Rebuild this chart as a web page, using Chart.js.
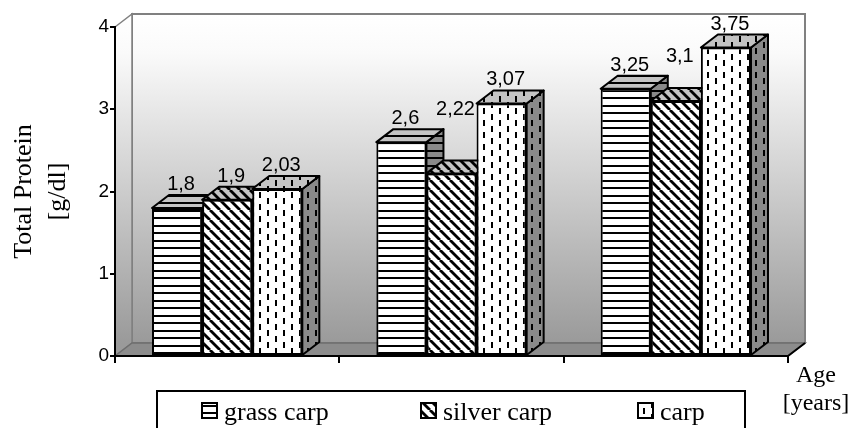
<!DOCTYPE html>
<html>
<head>
<meta charset="utf-8">
<script src="https://cdn.jsdelivr.net/npm/chart.js@4.4.1/dist/chart.umd.min.js"></script>
<style>
  body { margin: 0; background: #fff; }
  #wrap { width: 850px; height: 428px; position: relative; }
</style>
</head>
<body>
<div id="wrap"><canvas id="myChart"></canvas></div>
<script>
// ---------- data
const ages = ['1', '2', '3']            // age groups (not printed on the chart)
const seriesNames = ['grass carp', 'silver carp', 'carp']
const grassCarp = [1.8, 2.6, 3.25]
const silverCarp = [1.9, 2.22, 3.1]
const carp = [2.03, 3.07, 3.75]
const yTicks = [0, 1, 2, 3, 4]

// ---------- 3d look
const DX = 17, DY = -13

function makePattern(kind, bg) {
  const c = document.createElement('canvas')
  const g = c.getContext('2d')
  if (kind === 'h') {
    c.width = 8; c.height = 15
    g.fillStyle = bg; g.fillRect(0, 0, 8, 15)
    g.fillStyle = '#000'
    g.fillRect(0, 0, 8, 2)
    g.fillRect(0, 7, 8, 2)
  } else if (kind === 'd') {
    c.width = 10; c.height = 10
    g.fillStyle = bg; g.fillRect(0, 0, 10, 10)
    g.strokeStyle = '#000'; g.lineWidth = 2.8
    for (const x0 of [-10, 0, 10]) {
      g.beginPath(); g.moveTo(x0, 0); g.lineTo(x0 + 10, 10); g.stroke()
    }
  } else {
    c.width = 16; c.height = 12
    g.fillStyle = bg; g.fillRect(0, 0, 16, 12)
    g.fillStyle = '#000'
    g.fillRect(3, 0, 2, 6)
    g.fillRect(11, 6, 2, 6)
  }
  return document.createElement('canvas').getContext('2d').createPattern(c, 'repeat')
}

const kinds = ['h', 'd', 'v']
const frontFill = kinds.map(k => makePattern(k, '#ffffff'))
const topFill = kinds.map(k => makePattern(k, '#c4c4c4'))
const sideFill = kinds.map(k => makePattern(k, '#8a8a8a'))

function poly(ctx, pts, fill, stroke, lw) {
  ctx.beginPath()
  ctx.moveTo(pts[0][0], pts[0][1])
  for (let i = 1; i < pts.length; i++) ctx.lineTo(pts[i][0], pts[i][1])
  ctx.closePath()
  if (fill) { ctx.fillStyle = fill; ctx.fill() }
  if (stroke) { ctx.strokeStyle = stroke; ctx.lineWidth = lw; ctx.stroke() }
}

const depthPlugin = {
  id: 'depth',
  beforeDraw(chart) {
    const ctx = chart.ctx
    const { left, right, top, bottom } = chart.chartArea
    ctx.save()
    const grad = ctx.createLinearGradient(0, top + DY, 0, bottom + DY)
    grad.addColorStop(0, '#ffffff')
    grad.addColorStop(0.12, '#fafafa')
    grad.addColorStop(1, '#9a9a9a')
    // back wall
    poly(ctx, [[left + DX, top + DY], [right + DX, top + DY], [right + DX, bottom + DY], [left + DX, bottom + DY]], grad, '#808080', 2)
    // side wall
    poly(ctx, [[left, top], [left + DX, top + DY], [left + DX, bottom + DY], [left, bottom]], grad, '#808080', 1.5)
    // floor
    poly(ctx, [[left, bottom], [left + DX, bottom + DY], [right + DX, bottom + DY], [right, bottom]], '#8c8c8c', '#6e6e6e', 1.5)
    ctx.strokeStyle = '#000'; ctx.lineWidth = 2
    ctx.beginPath(); ctx.moveTo(right, bottom); ctx.lineTo(right + DX, bottom + DY); ctx.stroke()
    ctx.restore()
  },
  beforeDatasetsDraw(chart) {
    const ctx = chart.ctx
    const bars = []
    chart.data.datasets.forEach((ds, di) => {
      chart.getDatasetMeta(di).data.forEach(el => {
        const p = el.getProps(['x', 'y', 'base', 'width'], true)
        bars.push({ di, l: p.x - p.width / 2, r: p.x + p.width / 2, t: p.y, b: p.base })
      })
    })
    bars.sort((a, b) => a.l - b.l)
    ctx.save()
    ctx.lineJoin = 'round'
    // right side faces first, then tops, the library draws the fronts over them
    bars.forEach(s => poly(ctx, [[s.r, s.t], [s.r + DX, s.t + DY], [s.r + DX, s.b + DY], [s.r, s.b]], sideFill[s.di], '#000', 2))
    bars.forEach(s => poly(ctx, [[s.l, s.t], [s.l + DX, s.t + DY], [s.r + DX, s.t + DY], [s.r, s.t]], topFill[s.di], '#000', 2))
    ctx.restore()
  },
  afterDatasetsDraw(chart) {
    const ctx = chart.ctx
    ctx.save()
    ctx.font = '20px "Liberation Sans", Arial, sans-serif'
    ctx.fillStyle = '#000'
    ctx.textAlign = 'center'
    ctx.textBaseline = 'alphabetic'
    const lastY = []
    chart.data.datasets.forEach((ds, di) => {
      chart.getDatasetMeta(di).data.forEach((el, i) => {
        const txt = String(ds.data[i]).replace('.', ',')
        let y = el.y + DY - 5
        // lower bar behind a taller left neighbour: lift its label above the neighbour's
        if (di > 0 && lastY[i] !== undefined && ds.data[i] < chart.data.datasets[di - 1].data[i]) {
          y = Math.min(y, lastY[i] - 9)
        }
        lastY[i] = y
        ctx.fillText(txt, el.x + 4, y)
      })
    })
    ctx.restore()
  },
  afterDraw(chart) {
    const ctx = chart.ctx
    ctx.save()
    // legend box
    ctx.strokeStyle = '#000'; ctx.lineWidth = 2
    ctx.strokeRect(157, 391, 588, 45)
    const itemX = [202, 421, 638]
    ctx.font = '26px "Liberation Serif", "Times New Roman", serif'
    ctx.textBaseline = 'alphabetic'
    ctx.textAlign = 'left'
    chart.data.datasets.forEach((ds, di) => {
      const x = itemX[di]
      ctx.fillStyle = frontFill[di]
      ctx.fillRect(x, 403, 15, 15)
      ctx.strokeRect(x, 403, 15, 15)
      ctx.fillStyle = '#000'
      ctx.fillText(ds.label, x + 22, 420)
    })
    // x axis title
    ctx.textAlign = 'center'
    ctx.font = '24px "Liberation Serif", "Times New Roman", serif'
    ctx.fillText('Age', 816, 382)
    ctx.fillText('[years]', 816, 410)
    ctx.restore()
  }
}

const ctx = document.getElementById('myChart').getContext('2d')
const seriesData = [grassCarp, silverCarp, carp]

Graph = new Chart(ctx, {
  type: 'bar',
  data: {
    labels: ages,
    datasets: seriesNames.map((name, i) => ({
      label: name,
      data: seriesData[i],
      backgroundColor: frontFill[i],
      borderColor: '#000',
      borderWidth: 2,
      borderSkipped: false,
      categoryPercentage: 0.67,
      barPercentage: 1.0
    }))
  },
  options: {
    responsive: true,
    maintainAspectRatio: false,
    animation: false,
    events: [],
    layout: { padding: { top: 27, right: 62, left: 0, bottom: 0 } },
    plugins: {
      legend: { display: false },
      tooltip: { enabled: false }
    },
    scales: {
      x: {
        offset: true,
        grid: { offset: true, drawOnChartArea: false, drawTicks: true, tickLength: 7, color: '#000', lineWidth: 2 },
        border: { display: true, color: '#000', width: 2 },
        ticks: { display: false },
        afterFit: s => { s.height = 72 }
      },
      y: {
        min: yTicks[0],
        max: yTicks[yTicks.length - 1],
        afterBuildTicks: s => { s.ticks = yTicks.map(v => ({ value: v })) },
        grid: { drawOnChartArea: false, drawTicks: true, tickLength: 5, color: '#000', lineWidth: 2 },
        border: { display: true, color: '#000', width: 2 },
        ticks: {
          padding: 1,
          color: '#000',
          font: { family: '"Liberation Sans", Arial, sans-serif', size: 19 }
        },
        title: {
          display: true,
          text: ['Total Protein', '[g/dl]'],
          color: '#000',
          font: { family: '"Liberation Serif", "Times New Roman", serif', size: 26, lineHeight: 1.3 },
          padding: { top: 7, bottom: 0 }
        },
        afterFit: s => { s.width = 115 }
      }
    }
  },
  plugins: [depthPlugin]
})
</script>
</body>
</html>
